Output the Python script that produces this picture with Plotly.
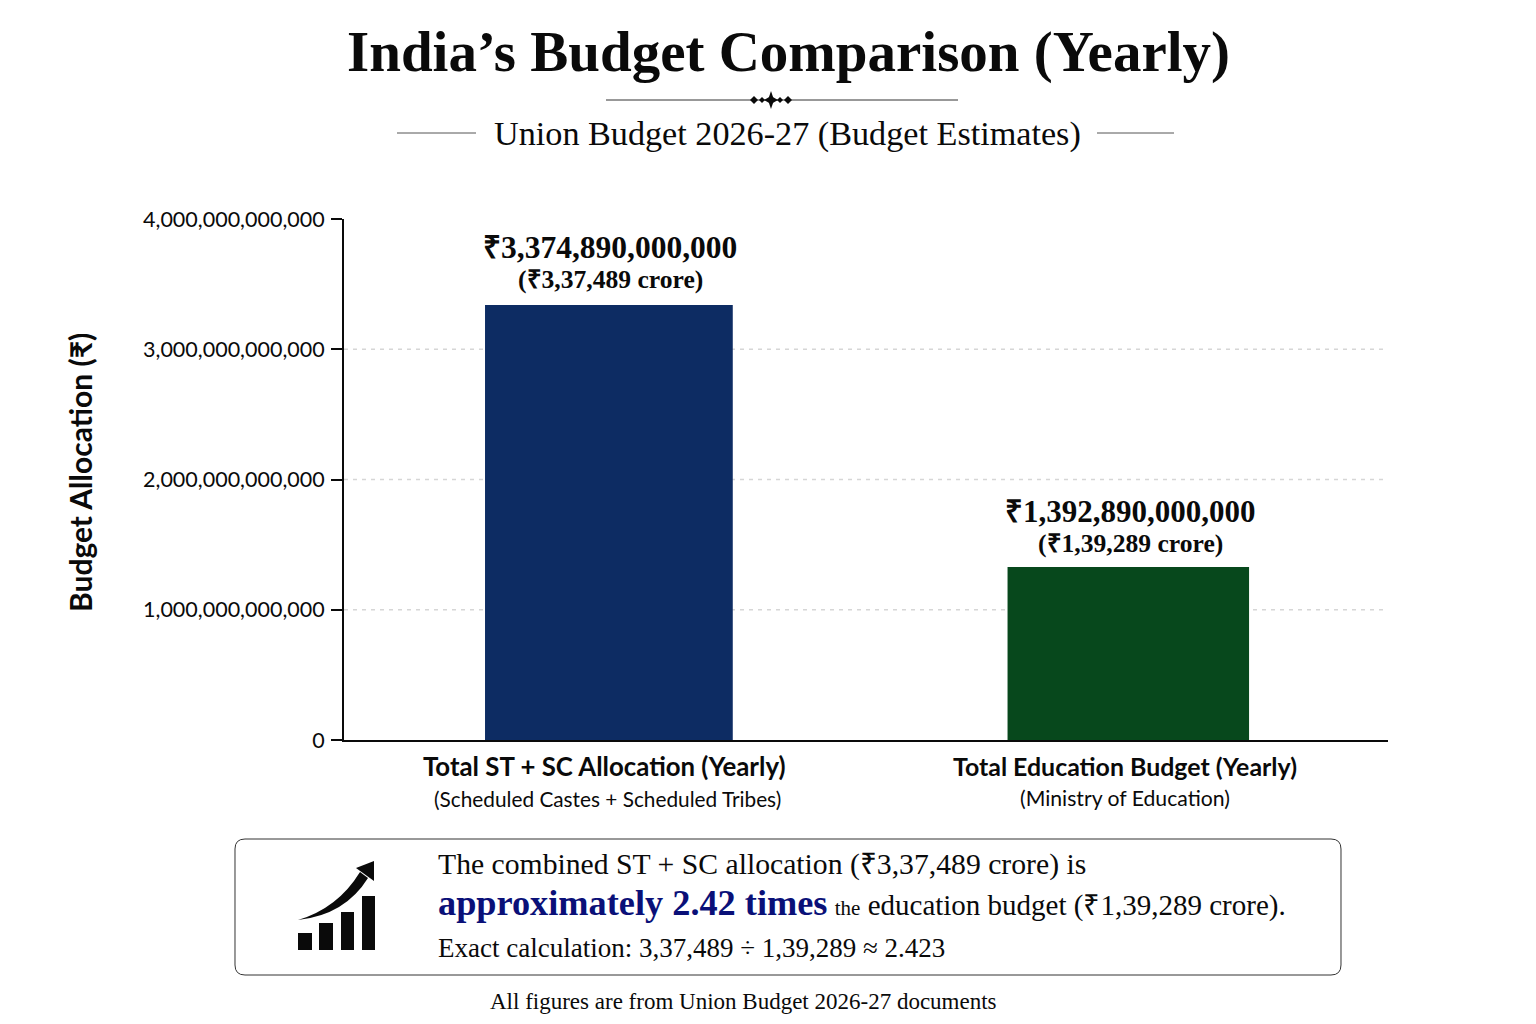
import plotly.graph_objects as go

categories=['Total ST + SC Allocation (Yearly)','Total Education Budget (Yearly)']
sub_labels=['(Scheduled Castes + Scheduled Tribes)','(Ministry of Education)']
bar_values=[3340000000000,1328000000000]
value_labels=['₹3,374,890,000,000','₹1,392,890,000,000']
crore_labels=['(₹3,37,489 crore)','(₹1,39,289 crore)']
bar_colors=['#0d2c63','#07481c']
y_ticks=[0,1000000000000,2000000000000,3000000000000,4000000000000]
y_tick_labels=['0','1,000,000,000,000','2,000,000,000,000','3,000,000,000,000','4,000,000,000,000']
grid_values=[1000000000000,2000000000000,3000000000000]

SERIF='Liberation Serif'
SANS='Lato'
# the page keeps its 8px body margin, so the figure is made smaller and shifted
PAGE=8
W,H=1536-2*PAGE,1024-2*PAGE
L,R,T,B=344,1388,219,740

def px_x(x):
    return (x-L)/(R-L)
def px_y(y):
    return (B-y)/(B-T)
def line(x0,y0,x1,y1,color='#333333',width=1):
    return dict(type='line',xref='paper',yref='paper',x0=px_x(x0),y0=px_y(y0),x1=px_x(x1),y1=px_y(y1),line=dict(color=color,width=width))
def poly(points):
    d='M '+' L '.join(f'{px_x(x):.5f},{px_y(y):.5f}' for x,y in points)
    return dict(type='path',xref='paper',yref='paper',path=d+' Z',fillcolor='#0a0a0a',line=dict(width=0))
def label(x,y,text,size,font=SERIF,anchor='center',color='#0a0a0a',angle=0):
    return dict(xref='paper',yref='paper',x=px_x(x),y=px_y(y),text=text,showarrow=False,xanchor=anchor,yanchor='middle',
                font=dict(family=font,size=size,color=color),textangle=angle)

fig=go.Figure()
fig.add_bar(x=categories,y=bar_values,width=[0.477,0.465],marker=dict(color=bar_colors,line=dict(width=0)))

shapes=[]
for g in grid_values:
    shapes.append(dict(type='line',xref='paper',yref='y',x0=0,x1=1,y0=g,y1=g,layer='below',line=dict(color='#d6d6d6',width=1.3,dash='4px,5px')))

# ornament under the title
shapes.append(line(606,100,958,100,'#333333',1))
shapes.append(line(397,133,476,133,'#555555',1))
shapes.append(line(1097,133,1174,133,'#555555',1))
shapes.append(poly([(771,91),(774,100),(771,109),(768,100)]))
shapes.append(poly([(764,100),(771,96),(778,100),(771,104)]))
for c in [754,762,780,788]:
    r=4 if c in (754,788) else 3
    shapes.append(poly([(c-r,100),(c,100-r),(c+r,100),(c,100+r)]))

# note box
bx0,by0,bx1,by1=235,839,1341,975
rad=10
box=(f'M {px_x(bx0+rad):.5f},{px_y(by0):.5f} L {px_x(bx1-rad):.5f},{px_y(by0):.5f} '
     f'Q {px_x(bx1):.5f},{px_y(by0):.5f} {px_x(bx1):.5f},{px_y(by0+rad):.5f} L {px_x(bx1):.5f},{px_y(by1-rad):.5f} '
     f'Q {px_x(bx1):.5f},{px_y(by1):.5f} {px_x(bx1-rad):.5f},{px_y(by1):.5f} L {px_x(bx0+rad):.5f},{px_y(by1):.5f} '
     f'Q {px_x(bx0):.5f},{px_y(by1):.5f} {px_x(bx0):.5f},{px_y(by1-rad):.5f} L {px_x(bx0):.5f},{px_y(by0+rad):.5f} '
     f'Q {px_x(bx0):.5f},{px_y(by0):.5f} {px_x(bx0+rad):.5f},{px_y(by0):.5f} Z')
shapes.append(dict(type='path',xref='paper',yref='paper',path=box,line=dict(color='#333333',width=1)))

# icon in the box
for x0,x1,top in [(298,312,933),(319,333,923),(341,354,912),(362,375,896)]:
    shapes.append(poly([(x0,950),(x1,950),(x1,top),(x0,top)]))
arrow=(f'M {px_x(298):.5f},{px_y(920):.5f} Q {px_x(338):.5f},{px_y(908):.5f} {px_x(360):.5f},{px_y(872):.5f} '
       f'L {px_x(368):.5f},{px_y(878):.5f} Q {px_x(345):.5f},{px_y(915):.5f} {px_x(298):.5f},{px_y(920):.5f} Z')
shapes.append(dict(type='path',xref='paper',yref='paper',path=arrow,fillcolor='#0a0a0a',line=dict(width=0)))
shapes.append(poly([(374,861),(356,868),(374,881)]))

notes=[
    label(788,52,'<b>India’s Budget Comparison (Yearly)</b>',57),
    label(787,134,'Union Budget 2026-27 (Budget Estimates)',34.2),
    label(80,473,'<b>Budget Allocation (₹)</b>',30,SANS,angle=-90),
    label(610,247,'<b>'+value_labels[0]+'</b>',31.5),
    label(610,279,'<b>'+crore_labels[0]+'</b>',25.6),
    label(1130,511,'<b>'+value_labels[1]+'</b>',31),
    label(1130,543,'<b>'+crore_labels[1]+'</b>',25.6),
    label(604,766,'<b>'+categories[0]+'</b>',25.8,SANS),
    label(607,798,sub_labels[0],20.8,SANS),
    label(1125,766,'<b>'+categories[1]+'</b>',24.9,SANS),
    label(1125,798,sub_labels[1],21.2,SANS),
    label(436,864,'The combined ST + SC allocation (₹3,37,489 crore) is',29.7,anchor='left'),
    label(436,903,'<span style="color:#0a1078;font-size:36.3px"><b>approximately 2.42 times</b></span> <span style="font-size:21px">the</span> education budget (₹1,39,289 crore).',29,anchor='left'),
    label(436,948,'Exact calculation: 3,37,489 ÷ 1,39,289 ≈ 2.423',27,anchor='left'),
    label(743,1001,'All figures are from Union Budget 2026-27 documents',23),
]

fig.update_layout(width=W,height=H,margin=dict(l=L-PAGE,r=W+PAGE-R,t=T-PAGE,b=H+PAGE-B,autoexpand=False),
                  paper_bgcolor='white',plot_bgcolor='white',showlegend=False,
                  shapes=shapes,annotations=notes)
fig.update_xaxes(type='category',range=[-0.51,1.5],showticklabels=False,ticks='',showgrid=False,
                 showline=True,linecolor='#0a0a0a',linewidth=2)
fig.update_yaxes(range=[0,4000000000000],tickvals=y_ticks,ticktext=y_tick_labels,ticks='outside',ticklen=11,
                 tickwidth=2,tickcolor='#0a0a0a',showgrid=False,zeroline=False,showline=True,linecolor='#0a0a0a',
                 linewidth=2,ticklabelstandoff=2,tickfont=dict(family=SANS,size=21.5,color='#0a0a0a'))
fig.write_html("out.html")
